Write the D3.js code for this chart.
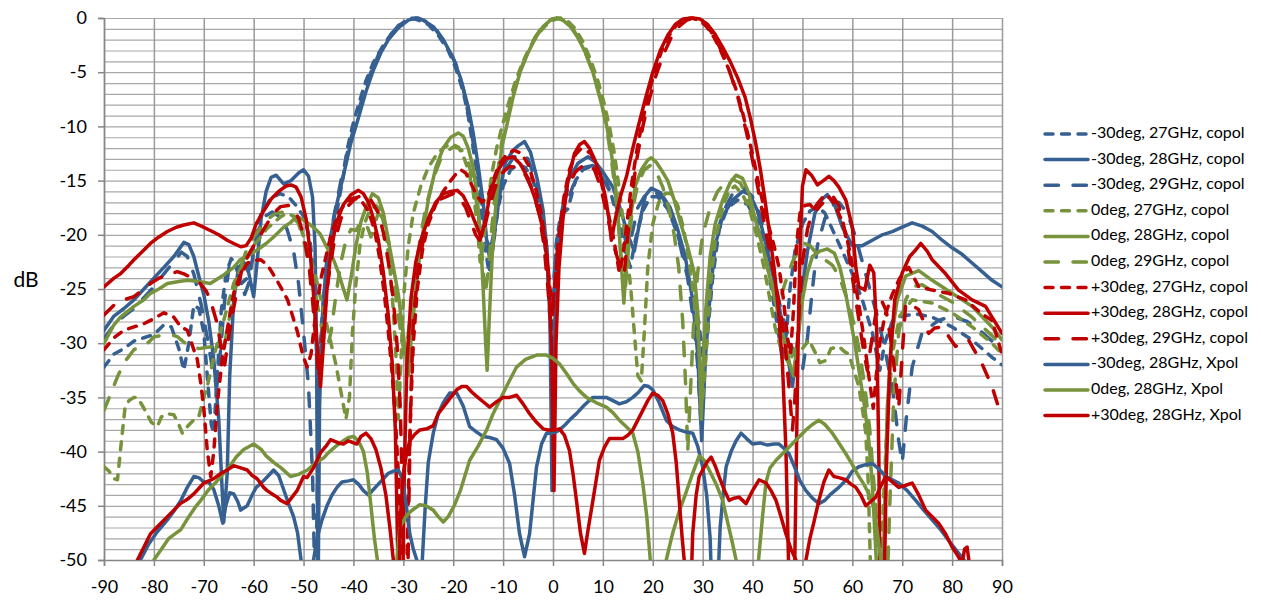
<!DOCTYPE html>
<html>
<head>
<meta charset="utf-8">
<script src="https://cdn.jsdelivr.net/npm/d3@7"></script>
<style>
  body { margin: 0; background: #fff; }
  svg { display: block; font-family: Lato, "Liberation Sans", sans-serif; }
</style>
</head>
<body>
<svg id="chart" width="1261" height="600"></svg>
<script>
// axis ticks
const xTicks = d3.range(-90, 91, 10);
const yTicks = d3.range(-50, 1, 5);
const yGrid = d3.range(-50, 1, 1);

// [angle deg, level dB] (values below -50 fall off the axis)
const blue27 = [[-90,-32.2],[-88,-31],[-86,-30.5],[-84,-29.8],[-82,-29.5],[-80,-29.2],[-78,-28.3],[-76.5,-28.5],[-75,-30.5],[-74,-32.5],[-73,-30],[-72,-26.5],[-71,-26.8],[-70,-29],[-69.3,-33],[-68.5,-37.5],[-68,-38.3],[-67.3,-33],[-66.5,-27],[-65.5,-23.5],[-64.5,-22.2],[-63.5,-22.8],[-62.5,-24.5],[-61.3,-24],[-60,-21],[-58.5,-18],[-56.5,-16.6],[-54.7,-16.2],[-53,-16.5],[-51.5,-17.3],[-50,-18.3],[-48.8,-20.2],[-48,-23.5],[-47.5,-29],[-47.1,-36],[-46.6,-30],[-46,-26],[-45,-22.5],[-44,-20],[-43,-17],[-42,-14.5],[-41.3,-12.2],[-40.2,-10],[-39,-8],[-37.5,-5.8],[-36,-4.1],[-34,-2.5],[-32,-1.2],[-30,-0.4],[-28.5,0],[-27,-0.2],[-25,-0.6],[-23,-1.6],[-21,-3],[-19.5,-4.6],[-18,-6.8],[-17,-9],[-16,-12],[-15,-15],[-14.2,-18.5],[-13.5,-21.5],[-12.8,-23.5],[-12,-21],[-11,-17.5],[-10,-15.5],[-8.5,-14],[-7,-13.5],[-5.5,-13.8],[-4,-15],[-2.8,-17],[-1.8,-20],[-1,-24],[-0.4,-30],[0,-27],[0.6,-21],[1.5,-18.2],[3,-17.6],[4.5,-15],[6,-14],[8,-13.6],[10,-14.5],[11.5,-16],[13,-18.5],[14.5,-21.5],[15.5,-23],[16.5,-20.5],[18,-17.8],[19.5,-16.5],[21,-16.5],[23,-17.6],[25,-20],[26.5,-22.5],[28,-25.5],[29.2,-28],[30.2,-32],[31,-29],[32,-24],[33.3,-19.5],[35,-17.5],[37,-16.8],[39,-17.2],[41,-18.8],[42.5,-21.5],[43.8,-25],[45,-28.5],[46,-31.5],[46.8,-29],[47.5,-25],[48.5,-21.5],[50,-19],[51.5,-17.8],[53,-17.4],[54.5,-18],[56,-19.5],[58,-21.5],[60,-23.6],[62,-26],[64,-29],[65.5,-32.5],[66.5,-30],[68,-28],[70,-27.5],[72.7,-27.3],[76,-27.6],[80,-28.5],[84,-29.7],[88,-31.3],[90,-32]];

const blue28 = [[-90,-28.8],[-88,-27.5],[-86,-26.8],[-84,-26],[-82,-25],[-80,-24],[-78,-23],[-76,-22],[-74,-20.7],[-73,-20.9],[-72,-22],[-71,-23.8],[-70,-25.5],[-69,-28],[-68,-31.5],[-67,-37],[-66,-46.5],[-65.3,-42],[-64.8,-33],[-64,-26],[-63,-23],[-62,-22.5],[-61,-23.5],[-60,-25.7],[-59.2,-22],[-58.5,-18.5],[-57.5,-16],[-56.5,-14.7],[-55.5,-14.5],[-54,-15.3],[-52.5,-15],[-51,-14.3],[-50,-14],[-49,-14.6],[-48.2,-16.5],[-47.7,-21],[-47.4,-30],[-47.1,-55],[-46.8,-36],[-46.3,-28],[-45.5,-23],[-44.5,-20],[-43.5,-17.5],[-42,-14.5],[-40.5,-11.5],[-39,-9.2],[-37.5,-6.8],[-36,-4.8],[-34.5,-3.2],[-33,-2],[-31,-0.9],[-29,-0.2],[-27.5,0],[-26,-0.2],[-24,-0.8],[-22,-2],[-20,-3.7],[-18.5,-5.6],[-17,-8.2],[-16,-10.6],[-15,-13.6],[-14,-17],[-13.3,-20.5],[-12.5,-21.3],[-11.5,-19],[-10.5,-15.5],[-9.5,-13.3],[-8,-12.2],[-7,-11.8],[-5.7,-11.4],[-4.5,-12.4],[-3.2,-14.8],[-2,-17.7],[-1.2,-21.5],[-0.6,-28],[-0.2,-43.6],[0.3,-30],[0.9,-21.5],[1.8,-17.8],[3,-15],[5,-13.4],[7,-12.8],[8.5,-13.3],[10,-14.2],[12,-15.6],[13.5,-17.6],[15,-20],[16.3,-21.5],[17.3,-19],[18.5,-16.4],[19.7,-15.7],[21.5,-16.1],[23.5,-17.5],[25,-19.5],[26.5,-22],[28,-26],[29,-31],[29.8,-39],[30.6,-31],[31.5,-25.5],[32.5,-21],[34,-18.3],[36,-16.8],[38,-16],[39.5,-16.3],[41,-17.8],[42.5,-20.5],[44,-23.5],[45.5,-27],[46.8,-30.5],[48,-34],[49,-30],[50,-25],[51,-21.5],[52.5,-18],[54,-16.7],[55,-16.3],[56.5,-17.3],[58,-19.3],[60,-21],[62,-21],[64,-20.5],[66,-20],[68,-19.7],[70,-19.3],[72,-18.9],[74,-19.2],[76,-19.7],[78,-20.5],[80,-21.2],[82,-21.8],[84,-22.6],[86,-23.4],[88,-24.2],[90,-24.8]];

const blue29 = [[-90,-29.6],[-88,-28.3],[-86,-27.5],[-84,-26.8],[-82,-25.8],[-80,-24.8],[-78,-23.6],[-76,-22.5],[-74.5,-21.6],[-73.3,-22],[-72,-23.6],[-70.5,-26.5],[-69.3,-29.5],[-68.2,-32.5],[-67.4,-34],[-66.7,-31],[-65.8,-26],[-64.8,-22.5],[-63.8,-22.6],[-62.8,-24],[-61.8,-25.5],[-61,-24.5],[-60,-21.5],[-59,-19.5],[-57.8,-18.3],[-56.3,-17.9],[-54.8,-18.3],[-53.3,-19.5],[-52,-21.5],[-51,-24.5],[-50,-29],[-49,-34],[-48.2,-42],[-47.6,-55],[-47.2,-42],[-46.7,-32],[-46,-26],[-45,-21.5],[-44,-18.5],[-42.5,-15],[-41,-12],[-39.5,-9.4],[-38,-7],[-36.5,-5],[-35,-3.4],[-33,-1.8],[-31,-0.7],[-29,-0.1],[-27,0],[-25.5,-0.3],[-23.5,-1],[-21.5,-2.4],[-19.5,-4.2],[-18,-6.5],[-17,-8.8],[-16,-11.5],[-15,-14.5],[-14,-18],[-13.2,-21],[-12.5,-22.5],[-11.7,-20],[-10.8,-16.5],[-9.5,-14],[-8,-12.9],[-6.5,-12.5],[-5,-13],[-3.5,-15],[-2.3,-17.8],[-1.3,-21],[-0.6,-26],[0.2,-24],[1,-19.5],[2.5,-17.4],[4,-15.5],[6,-13.8],[8,-13.6],[10,-14.8],[12,-16.5],[13.5,-18.5],[14.8,-21],[15.8,-20],[17,-17.5],[18.5,-16.3],[20.3,-16],[22,-16.6],[24,-18.5],[25.5,-21],[27,-24],[28.2,-28],[29,-32],[29.6,-37],[30.3,-30],[31.2,-25],[32.3,-21],[34,-18],[36,-16.2],[38,-15.6],[40,-16.5],[41.5,-18.2],[43,-21],[44.5,-24.5],[46,-27.5],[47.5,-30],[49,-31.5],[50,-32.5],[51,-29.5],[52,-25],[53,-21],[54.5,-18.5],[56,-17.3],[57.3,-17],[59,-18],[60.5,-20],[62,-22.5],[63.5,-25],[65,-27.5],[66.5,-30.5],[68,-34],[69.3,-39],[70,-41],[70.8,-37],[72,-32.2],[74,-29],[77.3,-27.9],[80,-27.5],[83,-28],[86,-29],[88,-29.8],[90,-30.4]];

const green27 = [[-90,-41.4],[-89,-41.8],[-88,-42.5],[-87.3,-42.6],[-86.5,-39],[-85.8,-36],[-85,-35.3],[-84,-35],[-83.3,-35],[-82,-36],[-80.5,-37.3],[-79.3,-37.7],[-78.5,-36.8],[-77.5,-36.5],[-76,-36.6],[-75,-37.5],[-74.3,-38.3],[-73.5,-37.8],[-72.7,-37.4],[-71.8,-37],[-71,-36.8],[-70,-35],[-69.3,-34],[-68,-31.3],[-67,-29.5],[-66,-27.9],[-64,-24.5],[-62.5,-23],[-61.2,-22],[-60,-21],[-58.6,-20.2],[-57.3,-19.4],[-56,-18.9],[-54.5,-18.3],[-53.2,-18],[-52,-18.3],[-50.5,-19.5],[-49,-21.5],[-47.5,-24],[-46,-27],[-44.5,-30],[-43.5,-32],[-42.5,-34.5],[-41.5,-37],[-40.8,-35],[-40.2,-29],[-39.5,-24.5],[-38.7,-21],[-37.8,-19],[-36.8,-17.8],[-35.5,-17.3],[-34.5,-17.8],[-33.5,-19.8],[-32.7,-23],[-32,-27],[-31.5,-31],[-31,-37],[-30.5,-32],[-30,-26],[-29,-21],[-28,-18],[-26.5,-15.5],[-25,-13.8],[-23.5,-12.7],[-22,-12],[-20.5,-11.6],[-19,-11.9],[-18,-12.7],[-17,-14],[-16,-16],[-15.2,-19],[-14.6,-22.5],[-14,-21],[-13.2,-17.5],[-12.3,-14.5],[-11.3,-12],[-10.2,-10],[-9,-8],[-7.5,-5.8],[-6,-4],[-4.5,-2.6],[-3,-1.5],[-1.5,-0.7],[0,-0.2],[1.5,0],[3,-0.3],[4.5,-1],[6,-2.2],[7.5,-3.8],[9,-5.8],[10.2,-7.8],[11.3,-10],[12.3,-12.5],[13.2,-15.5],[14,-18.5],[14.8,-21.5],[15.6,-25],[16.3,-29],[17,-33],[17.7,-33.5],[18.3,-29],[19,-23],[20,-19],[21.2,-17],[22.5,-16.2],[23.7,-16.2],[25,-17.3],[26.2,-19.5],[27.3,-22.5],[28.3,-26],[29.2,-30],[30,-35],[30.7,-31],[31.5,-25],[32.5,-20.5],[34,-17.5],[35.3,-15.9],[36.5,-15.5],[38,-16.3],[39.3,-17.5],[40.8,-20],[42.3,-23],[43.5,-26],[44.5,-28.5],[45.5,-30.2],[46.5,-31.2],[47.3,-31.9],[48.5,-30.5],[50,-30.5],[51.3,-29.7],[52.5,-30.8],[53.5,-31.8],[54.7,-31.6],[55.7,-30.5],[57.3,-30.3],[58.5,-30.8],[59.3,-31],[60.3,-32.5],[61.3,-34],[62,-36],[62.7,-38.3],[63.2,-43],[63.6,-50],[64.2,-55],[65.5,-55],[66.2,-45],[67,-37],[68,-31],[69.5,-27.5],[72,-26],[76,-26.3],[80,-27.2],[84,-28.5],[88,-30],[90,-31]];

const green28 = [[-90,-30],[-88,-28.3],[-86.7,-27.6],[-84,-26.6],[-82,-26],[-80.7,-25.4],[-79,-25],[-77.3,-24.5],[-75,-24.3],[-73.3,-24.2],[-71,-24.3],[-68.7,-24.5],[-66,-23.7],[-64,-23],[-62.7,-22.3],[-61,-21.9],[-59.3,-21.4],[-57.5,-20.8],[-56,-20.2],[-54,-19.3],[-52.7,-18.9],[-51.3,-18.3],[-49.5,-18.8],[-48,-19.3],[-46.7,-19.9],[-45.5,-21],[-44,-22.3],[-43,-23.5],[-42,-25],[-41.3,-26],[-40.5,-24],[-39.5,-21],[-38.5,-18.8],[-37.5,-17.5],[-36.2,-16.2],[-35,-16.6],[-34,-18],[-33,-20.5],[-32,-23],[-31,-25.5],[-30.2,-28.5],[-29.5,-31],[-29,-33],[-28.5,-30],[-27.5,-25],[-26.5,-21],[-25,-16.8],[-23.5,-13.8],[-22,-12],[-20.5,-11],[-19,-10.6],[-18,-10.9],[-17,-12],[-16,-13.8],[-15.2,-16.5],[-14.5,-20.5],[-14,-25],[-13.5,-30],[-13.2,-32.5],[-12.8,-28],[-12.2,-22],[-11.5,-17.5],[-10.3,-12],[-9.3,-10],[-8,-7.3],[-6.6,-5],[-5,-3.2],[-3.5,-1.8],[-2,-0.8],[-0.5,-0.2],[0.8,0],[2,-0.2],[3.5,-0.8],[5,-1.8],[6.5,-3.2],[8,-5],[9.3,-7.2],[10.5,-9.3],[11.5,-11.8],[12.3,-14.5],[13,-18],[13.6,-22],[14.2,-26.3],[14.8,-22],[15.5,-18.5],[16.5,-15.5],[17.7,-14],[19,-13.1],[19.7,-12.9],[20.7,-13.3],[21.7,-14],[23,-15],[24.3,-16.8],[25.5,-18.8],[27,-21.1],[28.3,-23.5],[29,-27],[29.4,-32],[29.7,-37],[30.1,-32],[30.6,-27],[31.5,-22],[32.5,-19],[34,-16.8],[35.5,-15.2],[36.7,-14.5],[38,-14.8],[39.3,-16.2],[40.5,-18.5],[42,-21],[43.5,-24],[45,-27],[46.5,-30],[47.5,-32],[48.2,-33],[49,-30],[50,-26],[51,-23.5],[52,-22],[53.5,-21.5],[55,-21.3],[56.4,-21.7],[57.5,-23],[58.5,-25],[59.5,-27.5],[60.5,-30],[61.5,-33],[62.5,-36],[63.3,-39],[64,-43],[64.8,-50],[65.3,-55],[66,-55],[66.5,-45],[67,-36],[68,-29],[69,-26],[70.7,-23.8],[73.3,-23.3],[76,-24.2],[80,-25.4],[84,-26.6],[88,-28.5],[90,-29.7]];

const green29 = [[-90,-36.2],[-88.5,-34.5],[-87.3,-33.1],[-86,-31.8],[-84,-30.6],[-82.5,-30.3],[-81,-29.9],[-80,-29.4],[-78.5,-29.3],[-77.3,-29.3],[-76,-29.3],[-75.3,-29.4],[-74,-29.9],[-72.7,-30.3],[-71,-30.5],[-69.5,-30.4],[-68,-30.3],[-66.5,-30.6],[-65.8,-30],[-65,-28],[-64,-25.5],[-63,-23.5],[-61.5,-21.5],[-60,-20.2],[-58.5,-19.3],[-57,-18.5],[-55.5,-18],[-54,-17.9],[-53,-17.8],[-52,-18.2],[-51,-19],[-50,-20.5],[-49,-22.5],[-48,-24.5],[-47,-27],[-46,-29.5],[-45.2,-30.3],[-44.5,-29],[-43.5,-25.5],[-42.5,-22.5],[-41.5,-20.5],[-40.5,-19.5],[-39.5,-19.6],[-38.5,-18.8],[-37.5,-18.9],[-36.5,-20.2],[-35.8,-19],[-35,-18],[-34,-18.5],[-33,-20.5],[-32,-23.5],[-31.2,-27],[-30.5,-29],[-29.8,-31],[-29.2,-30],[-28.5,-27],[-27.5,-23],[-26.5,-20],[-25.5,-17.5],[-24,-14.8],[-22.5,-13],[-21,-12.2],[-20,-11.9],[-19,-12],[-18,-12.3],[-17,-13.3],[-16,-15],[-15,-18],[-14.2,-22],[-13.6,-25.5],[-13,-23.5],[-12.2,-19],[-11.3,-15],[-10.3,-11.5],[-9.2,-9.3],[-8,-7],[-6.5,-4.8],[-5,-3],[-3.5,-1.7],[-2,-0.7],[-0.3,-0.1],[1,0],[2.5,-0.3],[4,-1],[5.5,-2.2],[7,-3.8],[8.5,-5.7],[9.8,-8],[10.8,-10.3],[11.7,-13],[12.5,-16],[13.2,-19.5],[13.8,-23],[14.4,-25.5],[15,-22],[15.8,-18],[17,-15.3],[18.3,-14],[19.5,-13.6],[20.8,-14.3],[22,-15.6],[23.2,-17.5],[24.3,-20],[25.2,-23],[26,-28],[26.6,-34],[27,-40],[27.5,-35],[28.2,-28],[29,-23.5],[30,-20],[31.5,-17.5],[33,-16],[34.5,-15.2],[36,-14.9],[37.5,-15.2],[39,-16.5],[40.5,-18.5],[42,-21],[43.3,-23.5],[44.5,-25.5],[45.5,-26],[46.5,-24.5],[48,-22.5],[49.5,-21.2],[50.4,-20.8],[51.5,-21],[53,-21.8],[54.5,-22.3],[56,-22.8],[57.5,-24],[59,-26],[60.5,-28.5],[61.5,-31],[62.5,-34],[63.5,-38],[64.5,-44],[65.3,-50],[66,-55],[66.8,-55],[67.5,-45],[68.3,-35],[69.3,-29],[70.7,-26],[72,-24.8],[74,-24.6],[76,-25.2],[80,-26.2],[84,-27.6],[88,-29.3],[90,-30.3]];

const red27 = [[-90,-30.6],[-88,-29.5],[-86,-28.8],[-84,-28.5],[-82,-28.2],[-80.7,-27.9],[-78,-27.2],[-76,-27.6],[-74.6,-28.5],[-73.3,-28.8],[-72,-30.6],[-71.3,-31.5],[-70.6,-33.7],[-70,-36],[-69.3,-39.9],[-68.6,-42.3],[-68,-40],[-67.2,-35.2],[-66.3,-31.5],[-65.4,-29],[-64,-25.4],[-62.6,-23.6],[-61.2,-22.6],[-60,-22.4],[-58.6,-22.3],[-57.2,-22.8],[-56,-23.7],[-54.6,-24.8],[-53.2,-26],[-52.2,-27.5],[-51.2,-29],[-50.2,-31],[-49.3,-32.2],[-48.5,-31],[-47.5,-27],[-46.5,-24],[-45.5,-22],[-44.5,-20],[-43,-18],[-41.5,-17],[-40,-16.6],[-38.5,-16.8],[-37,-17.8],[-35.8,-19.5],[-34.8,-22],[-33.8,-25.5],[-33,-29],[-32.2,-33],[-31.6,-37],[-31,-42],[-30.5,-48],[-30,-55],[-29.5,-55],[-29.1,-46],[-28.6,-37],[-28,-30],[-27.2,-25],[-26.2,-21.5],[-25,-19],[-23.5,-17.2],[-22,-16],[-20.5,-15],[-19.3,-14.3],[-18.5,-14],[-17.5,-14.3],[-16.5,-15.2],[-15.3,-16.4],[-14.2,-17],[-13.1,-16.5],[-12,-15],[-10.8,-13.5],[-9.3,-12.6],[-7.8,-12.2],[-6.3,-12.5],[-5,-13.5],[-3.7,-15.3],[-2.5,-17.7],[-1.5,-20.5],[-0.8,-24],[-0.2,-27],[0.5,-24],[1.2,-20],[2.2,-16.5],[3.3,-14],[4.5,-12.6],[5.5,-12.1],[6.5,-12.2],[7.6,-12.5],[8.6,-13.5],[9.6,-15],[10.5,-16.8],[11.3,-18.5],[12,-20],[12.7,-21.8],[13.3,-23.5],[14,-22],[14.8,-19],[15.7,-15.5],[16.7,-12.5],[17.8,-9.8],[19,-7.3],[20.3,-5],[21.8,-3],[23.3,-1.6],[24.8,-0.6],[26.3,-0.1],[27.8,0],[29.3,-0.2],[30.8,-0.8],[32.3,-1.8],[33.8,-3.2],[35.3,-4.8],[36.7,-6.6],[38,-8.7],[39.2,-11],[40.3,-13.2],[41.3,-15.5],[42.3,-17.5],[43.3,-19.3],[44.3,-21],[45.3,-23],[46.2,-26],[47,-29.5],[47.6,-31],[48.2,-27],[48.8,-21],[49.5,-18],[50.5,-17.3],[51.5,-17.2],[52.7,-17.8],[53.8,-17.2],[55.3,-16.5],[56.5,-17.2],[57.7,-18.5],[58.7,-19.9],[59.7,-22],[60.6,-24.5],[61.5,-27],[62.3,-29.5],[63,-32],[63.6,-34],[64.2,-36],[64.8,-33],[65.5,-30],[66.5,-27.5],[68,-25.5],[69.5,-24],[71.3,-23],[73.3,-24.8],[76,-25.1],[79.3,-25.4],[82.7,-26],[86,-27.3],[88,-27.9],[90,-31]];

const red28 = [[-90,-24.8],[-88,-24],[-86.7,-23.6],[-85,-22.8],[-84,-22.3],[-82,-21.4],[-80.7,-20.8],[-79,-20.2],[-77.3,-19.7],[-75.5,-19.3],[-74,-19.1],[-72,-18.9],[-70.5,-19.2],[-68.7,-19.6],[-67,-20],[-65.3,-20.5],[-64,-20.8],[-62.6,-21.1],[-61.5,-21],[-60.5,-20.3],[-59.5,-19],[-58,-17.8],[-56.5,-16.7],[-55,-16],[-53.5,-15.5],[-52.5,-15.4],[-51.5,-15.6],[-50.5,-16.5],[-49.5,-18.5],[-48.7,-21.5],[-48,-25.5],[-47.3,-30],[-46.6,-34],[-46,-30],[-45.3,-25],[-44.5,-21.5],[-43.5,-19],[-42,-17.2],[-40.5,-16.3],[-39,-15.9],[-38,-16.2],[-37,-17],[-36,-18.5],[-35,-20.5],[-34,-23.5],[-33,-27.5],[-32.2,-32],[-31.6,-38],[-31.1,-50],[-30.6,-55],[-30.2,-55],[-29.8,-42],[-29.3,-32],[-28.5,-26],[-27.5,-22.5],[-26.5,-20.5],[-25,-18.5],[-23.5,-17],[-22,-16.2],[-20.5,-16],[-19.2,-15.9],[-18,-16.4],[-16.8,-17.5],[-15.5,-19],[-14.4,-20.2],[-13.5,-18.5],[-12.5,-16],[-11,-14],[-9.5,-13],[-8,-12.8],[-6.5,-13.5],[-5,-14.8],[-3.5,-16.8],[-2,-19.5],[-1,-23],[-0.3,-30],[0.2,-43.6],[0.6,-30],[1.2,-23],[2,-18.5],[3,-15],[4.3,-12.5],[5.3,-11.7],[6.3,-11.4],[7.3,-12],[8.3,-13],[9.5,-14.5],[10.5,-16.5],[11.2,-18.5],[11.7,-20.5],[12.5,-18.5],[13.5,-16.5],[14.8,-14.5],[16,-12],[17.2,-9.8],[18.5,-7.5],[20,-5],[21.5,-3],[23,-1.6],[24.5,-0.6],[26,-0.1],[28,0],[29.5,-0.1],[31,-0.6],[32.5,-1.5],[34,-2.7],[35.5,-4],[37,-5.5],[38.5,-7.3],[39.6,-9.3],[40.6,-11.5],[41.5,-13.8],[42.4,-16.5],[43.3,-19.5],[44.3,-23],[45.2,-27],[46,-32],[46.7,-40],[47.2,-50],[47.6,-55],[48.3,-55],[48.8,-40],[49.2,-28],[49.6,-20],[50,-15.5],[50.7,-14],[51.8,-14.5],[53,-15.4],[54.2,-15],[55.3,-14.6],[56.3,-15],[57.3,-15.6],[58.7,-16.8],[60,-19.3],[60.7,-23],[61.3,-24.8],[62.5,-25.1],[63.5,-22.8],[64.3,-23.5],[64.9,-29],[65.3,-40],[65.6,-55],[66.3,-55],[66.8,-42],[67.5,-32],[68.5,-26],[70,-23.5],[71.5,-22],[72.5,-21.5],[73.7,-20.8],[75,-21.5],[76,-22.3],[78.7,-23.6],[81.3,-25.1],[84,-26],[86.7,-26.6],[88,-27.6],[90,-29.1]];

const red29 = [[-90,-27.4],[-88,-26.5],[-86,-26],[-84,-25.7],[-82,-25],[-80.7,-24.5],[-79,-24],[-77.3,-23.7],[-75.3,-23.4],[-74,-23.6],[-72.7,-23.9],[-70.7,-24.5],[-69.5,-25.2],[-68.7,-26],[-67.3,-28.2],[-66.3,-31],[-65.8,-32],[-65.2,-30],[-64.5,-28],[-63.5,-25.5],[-62.5,-23.5],[-61.2,-22],[-60,-21],[-59.2,-20.5],[-58,-19.5],[-57.2,-18.9],[-56,-18],[-54.6,-17.4],[-53,-17.3],[-52,-17.6],[-51,-18.5],[-50,-20],[-49,-22.5],[-48.2,-26],[-47.5,-30],[-47,-33],[-46.5,-31],[-46,-28],[-45,-24],[-44,-21],[-42.5,-18.5],[-41,-17.3],[-39.5,-16.6],[-38,-16.3],[-36.5,-16.8],[-35,-18],[-34,-19.8],[-33,-22.5],[-32,-26],[-31.2,-30.5],[-30.6,-36],[-30.2,-44],[-29.9,-50],[-29.6,-55],[-29.2,-55],[-28.9,-45],[-28.5,-35],[-28,-28],[-27,-23],[-26,-20.5],[-24.5,-18],[-23,-16.8],[-21.5,-16.5],[-20,-16.2],[-18.7,-16.6],[-17.5,-17.5],[-16.3,-19],[-15.5,-20],[-14.7,-20.5],[-13.8,-19.5],[-12.8,-17.5],[-11.5,-15.5],[-10,-14.2],[-8.7,-13.7],[-7,-13.8],[-5.5,-14.5],[-4,-16],[-2.8,-18],[-1.8,-21],[-1,-25],[-0.4,-28.5],[0.2,-26],[0.9,-21.5],[1.8,-18],[3,-15.5],[4.5,-14.2],[6,-13.6],[7.3,-13.5],[8.3,-14],[9.5,-15.5],[10.5,-17.5],[11.5,-19.5],[12.5,-21.5],[13.5,-23],[14.3,-23.5],[15,-20],[15.8,-16.5],[16.8,-13],[18,-10],[19.3,-7.5],[20.7,-5.2],[22.2,-3.3],[23.7,-1.8],[25.2,-0.8],[26.8,-0.2],[28.2,0],[29.7,-0.2],[31.2,-0.9],[32.7,-2],[34.2,-3.5],[35.6,-5.2],[37,-7.2],[38.3,-9.6],[39.5,-12],[40.6,-14.5],[41.6,-17],[42.6,-19.5],[43.6,-22],[44.6,-24.5],[45.6,-27],[46.5,-30],[47.3,-34],[48,-38],[48.5,-35],[49.2,-28],[50,-22.5],[51,-19.5],[52,-17.8],[53.2,-17],[54.7,-16.2],[56,-16.4],[57.2,-17.2],[58.2,-19],[59.2,-21.5],[60.2,-24.5],[61.2,-27.5],[62.2,-30.5],[63,-32.5],[63.8,-30],[64.8,-27],[65.8,-26],[66.8,-27],[67.8,-30],[68.6,-33],[69.3,-36],[70,-31],[70.7,-26.3],[72,-26.5],[73.3,-26.9],[75.3,-29.1],[76.5,-28.6],[78,-28.5],[80.7,-30.3],[83.3,-29.7],[86,-31.9],[88,-34],[89.3,-35.9],[90,-36.2]];

const blueXpol = [[-83.5,-55],[-82.7,-50],[-81,-48.5],[-79.5,-47.5],[-77.3,-46.3],[-76,-45.5],[-74.6,-44.5],[-73.3,-43.3],[-72,-42.3],[-71,-42.4],[-70,-42.8],[-69,-42.8],[-68,-43.5],[-67,-45],[-66.2,-46.6],[-65.6,-45],[-64.8,-43.8],[-64,-43.9],[-63.2,-44.6],[-62.6,-45.4],[-61.3,-45],[-60.3,-44],[-59.5,-43.3],[-58.7,-43],[-57.2,-42.3],[-56,-41.7],[-55,-42.2],[-54,-43.5],[-53,-44.8],[-52,-46],[-51.2,-47.5],[-50.5,-50],[-50,-55],[-48.5,-55],[-48,-50],[-47.3,-48],[-46.3,-46.3],[-45.3,-45],[-44.3,-44],[-43.3,-43.3],[-42.3,-42.8],[-41,-42.7],[-40,-42.6],[-39,-43],[-38,-43.6],[-37,-44],[-36,-43.5],[-35,-43],[-34,-42.5],[-33,-42],[-32,-41.8],[-31,-41.7],[-30.2,-42.5],[-29.4,-45],[-28.7,-47.6],[-28,-49],[-27.3,-50],[-26.7,-55],[-26.2,-50],[-25.6,-45],[-25,-41],[-24,-38.3],[-23,-36.5],[-22,-35.5],[-20.7,-34.6],[-19.3,-34.6],[-18,-35.8],[-16.7,-37.7],[-15.3,-38.2],[-14,-38.6],[-12.7,-38.7],[-11.3,-38.9],[-10,-39.7],[-8.7,-41.1],[-7.7,-44],[-6.7,-47.6],[-5.7,-49.7],[-4.7,-47.6],[-4,-44.5],[-3.3,-41.4],[-2.3,-39.3],[-1.3,-38.3],[-0.3,-38.3],[0.5,-38.2],[1.3,-38],[2.5,-37.5],[3.5,-37],[4.7,-36.5],[6.3,-35.7],[8,-35],[9.3,-35],[10.7,-35],[12,-35.3],[13.3,-35.6],[14.7,-35.4],[16,-35],[17.2,-34.5],[18.3,-33.9],[19.2,-34],[20,-34.3],[21.3,-35.5],[22.7,-37.1],[24,-37.7],[25.3,-38],[26.7,-38.2],[28,-38.3],[29,-39.5],[30,-41.4],[30.8,-44],[31.5,-48],[32,-55],[32.8,-55],[33.5,-47],[34.2,-43.5],[34.7,-41.4],[35.7,-40],[36.7,-39],[37.7,-38.3],[38.8,-38.8],[40,-39.3],[41.5,-39.2],[43,-39.4],[44.3,-39.3],[45.3,-39.3],[46.3,-39.7],[47.3,-40.2],[48.5,-41.5],[49.5,-42.7],[50.7,-43.6],[52,-44.3],[53.3,-44.8],[54.5,-44.5],[55.5,-44],[57.3,-43.3],[59,-42.5],[60,-41.8],[61.3,-41.4],[62.7,-41.2],[64,-41.1],[65.3,-41.6],[66.7,-42.3],[68,-42.6],[69.3,-42.9],[71,-43.6],[72.7,-44.5],[74.3,-45.4],[76,-46.3],[77.7,-47.2],[79.3,-48.2],[81,-49.2],[82.7,-50.2],[83.5,-55]];

const greenXpol = [[-81,-55],[-80,-50],[-78.5,-49],[-77,-48],[-75.5,-47.5],[-74.6,-47.2],[-73,-46],[-71.5,-45],[-70.6,-44.5],[-69,-43.5],[-67.5,-42.8],[-66.6,-42.3],[-65,-41.5],[-63.5,-40.5],[-62,-39.8],[-60,-39.3],[-58.5,-39.8],[-57.5,-40.4],[-56,-41],[-54.5,-41.5],[-52.6,-42.3],[-51,-42.1],[-49.2,-41.7],[-47.5,-41],[-46,-40.6],[-45,-40.1],[-43.5,-39.5],[-42,-39],[-41,-38.7],[-40,-38.6],[-39,-39],[-38,-40],[-37.2,-42],[-36.5,-45],[-35.8,-48],[-35.2,-50],[-34.8,-55],[-32,-55],[-31.3,-50],[-30.7,-47],[-29.5,-46],[-28.5,-45.5],[-26.7,-44.9],[-25.5,-45],[-24,-45.4],[-23,-46],[-22,-46.5],[-21,-46],[-19.7,-44.9],[-18.5,-43.5],[-17.5,-42],[-16.7,-40.8],[-15,-39.5],[-13.3,-38],[-12,-36.5],[-10.7,-35.3],[-9,-33.7],[-7.3,-32.2],[-5.5,-31.5],[-3.3,-31.1],[-1.3,-31.1],[0,-31.4],[1.3,-31.9],[2.7,-32.8],[4,-33.7],[5.3,-34.4],[6.7,-35],[8.7,-35.5],[10.7,-35.9],[12,-36.4],[13.3,-37.1],[14.7,-37.7],[16,-38.3],[17,-40],[18,-42.9],[18.8,-46],[19.5,-50],[20,-55],[22.2,-55],[22.7,-50],[24,-47.5],[25.3,-45.5],[26.5,-44],[28,-42],[29.3,-40.4],[30.3,-40.8],[31.3,-41.7],[32.7,-43],[34,-44.5],[35,-46.5],[36,-48.5],[36.7,-50],[37.2,-55],[40.5,-55],[41.2,-50],[42,-46],[42.7,-42.8],[43.5,-41.5],[44.7,-40.8],[46,-40.2],[47.3,-39.6],[49,-38.8],[50.7,-38],[52,-37.5],[53.3,-37.1],[54.5,-37.5],[56,-38.3],[57.3,-39.2],[58.7,-40.2],[60,-41.2],[61.3,-42.3],[62.3,-43],[63.3,-43.9],[64.2,-45],[64.7,-46.3],[65.3,-48.5],[65.7,-50],[66.2,-55]];

const redXpol = [[-85,-55],[-83.3,-50],[-82,-48.8],[-80.7,-47.6],[-79,-46.8],[-77.3,-46],[-76,-45.4],[-74.7,-44.8],[-73.3,-44.4],[-72,-43.9],[-71,-43.4],[-70,-42.9],[-68,-42.5],[-66.5,-42],[-65.3,-41.7],[-64,-41.3],[-62.6,-41.5],[-61.3,-41.7],[-60.3,-42.2],[-59.3,-42.5],[-58,-43.3],[-57.3,-43.6],[-56,-44],[-55.3,-44.2],[-54.6,-44.5],[-53.3,-44.8],[-52.3,-44.2],[-51.3,-43.6],[-50,-42.3],[-49.3,-42.4],[-48,-41.5],[-46.6,-40.1],[-45.5,-39.5],[-44.6,-38.9],[-43,-39.2],[-42,-39.3],[-41,-39],[-39.3,-39.3],[-38.5,-38.6],[-37.5,-38.3],[-36.5,-38.8],[-35.5,-39.8],[-34.5,-41.5],[-33.5,-44],[-32.7,-47],[-32,-50],[-31.5,-55],[-31,-55],[-30.6,-46],[-30,-42],[-29.3,-40],[-28.7,-39],[-27.7,-38.4],[-26.7,-38],[-25.3,-37.9],[-24,-37.6],[-23,-36.5],[-22,-35.9],[-20.5,-35],[-19.3,-34.3],[-18.3,-34],[-17.3,-34],[-16.3,-34.5],[-15.3,-34.9],[-14,-35.4],[-12.7,-35.9],[-11.3,-35.4],[-10,-35],[-8.7,-35],[-7.3,-34.8],[-6,-35.6],[-4.7,-36.5],[-3.3,-37.3],[-2,-37.9],[-1,-38],[0,-38],[0.4,-38],[1.3,-37.9],[2.3,-38.5],[3.3,-39.9],[4,-42],[4.7,-44.5],[5.5,-47.5],[6.3,-49.4],[7.1,-47],[8,-44.5],[8.7,-42.5],[9.3,-40.8],[10.3,-39.6],[11.3,-38.8],[12.7,-38.8],[14,-38.8],[15,-38.5],[16,-38],[17,-37.1],[18,-36.2],[19,-35.3],[20,-34.6],[21,-34.8],[22,-35.3],[23,-36.5],[24,-38.3],[24.7,-41],[25.3,-44.5],[25.9,-48],[26.3,-50],[26.8,-55],[27.5,-55],[28,-47.6],[28.7,-44],[29.3,-42.3],[30,-41.7],[30.8,-41],[31.7,-40.5],[32.5,-41.3],[33.3,-42.3],[34.3,-43.5],[35.3,-44.5],[36.3,-44.3],[37.3,-44.2],[38.7,-44.8],[40,-43.6],[41.3,-42.6],[42.7,-42.9],[43.7,-43.6],[44.7,-44.5],[45.7,-46],[46.7,-47.6],[47.7,-49],[48.7,-50],[49.7,-55],[50.2,-55],[50.7,-50],[51.5,-48],[52.3,-46.5],[53.3,-44.5],[54.3,-42.8],[55.3,-41.7],[56.3,-42.3],[57.3,-42.4],[58.7,-42.6],[59.7,-43],[60.7,-43.3],[61.7,-44],[62.7,-45],[63.7,-44.6],[64.7,-44.2],[65.7,-43.2],[66.7,-42.3],[68,-42.8],[69.3,-43.3],[70.7,-43.1],[72,-42.9],[73.3,-44],[74.7,-45.4],[76,-46],[77.3,-46.6],[78.7,-47.6],[80,-48.8],[81,-49.5],[82,-50.3],[82.5,-49],[83,-48.8],[83.5,-50.5],[84,-55]];

const seriesNames = [
    "-30deg, 27GHz, copol", "-30deg, 28GHz, copol", "-30deg, 29GHz, copol",
    "0deg, 27GHz, copol", "0deg, 28GHz, copol", "0deg, 29GHz, copol",
    "+30deg, 27GHz, copol", "+30deg, 28GHz, copol", "+30deg, 29GHz, copol",
    "-30deg, 28GHz, Xpol", "0deg, 28GHz, Xpol", "+30deg, 28GHz, Xpol"
];
const seriesData = [blue27, blue28, blue29, green27, green28, green29,
    red27, red28, red29, blueXpol, greenXpol, redXpol];

const BLUE = "#376092", GREEN = "#77933C", RED = "#C00000";
const DASH = "8,8.5", LONG_DASH = "13.5,14.5";
const styles = [
    [BLUE, DASH], [BLUE, null], [BLUE, LONG_DASH],
    [GREEN, DASH], [GREEN, null], [GREEN, LONG_DASH],
    [RED, DASH], [RED, null], [RED, LONG_DASH],
    [BLUE, null], [GREEN, null], [RED, null]
];

const series = seriesNames.map((name, i) => ({
    name,
    data: seriesData[i],
    colour: styles[i][0],
    dash: styles[i][1]
}));

const margin = { top: 18, left: 104 };
const plotW = 898, plotH = 542;

const svg = d3.select("#chart");

const xScale = d3.scaleLinear().domain([-90, 90]).range([margin.left, margin.left + plotW]);
const yScale = d3.scaleLinear().domain([-50, 0]).range([margin.top + plotH, margin.top]);

// gridlines
svg.append("g")
    .attr("transform", `translate(${margin.left}, 0)`)
    .call(d3.axisLeft(yScale).tickValues(yGrid).tickSize(-plotW).tickFormat(""))
    .call((g) => g.select(".domain").remove())
    .selectAll("line")
    .attr("stroke", "#a8a8a8")
    .attr("stroke-width", 1.2);

svg.append("g")
    .attr("transform", `translate(0, ${margin.top + plotH})`)
    .call(d3.axisBottom(xScale).tickValues(xTicks).tickSize(-plotH).tickFormat(""))
    .call((g) => g.select(".domain").remove())
    .selectAll("line")
    .attr("stroke", "#9a9a9a")
    .attr("stroke-width", 1.5);

// axes
const yAxis = svg.append("g")
    .attr("transform", `translate(${margin.left}, 0)`)
    .call(d3.axisLeft(yScale).tickValues(yTicks).tickSize(6).tickPadding(11).tickFormat((d) => String(d)));

const xAxis = svg.append("g")
    .attr("transform", `translate(0, ${margin.top + plotH})`)
    .call(d3.axisBottom(xScale).tickValues(xTicks).tickSize(6).tickPadding(14).tickFormat((d) => String(d)));

[yAxis, xAxis].forEach((g) => {
    g.select(".domain").attr("stroke", "#868686").attr("stroke-width", 1.5);
    g.selectAll(".tick line").attr("stroke", "#868686").attr("stroke-width", 1.5);
    g.selectAll("text")
        .attr("fill", "#000")
        .attr("font-size", 18)
        .attr("font-family", "Lato, 'Liberation Sans', sans-serif");
});

svg.append("text")
    .attr("x", 26)
    .attr("y", 282)
    .attr("text-anchor", "middle")
    .attr("dominant-baseline", "middle")
    .attr("font-size", 21)
    .attr("fill", "#000")
    .text("dB");

// series lines
svg.append("clipPath")
    .attr("id", "plot-clip")
    .append("rect")
    .attr("x", margin.left)
    .attr("y", margin.top - 4)
    .attr("width", plotW)
    .attr("height", plotH + 4);

const line = d3.line()
    .x((d) => xScale(d[0]))
    .y((d) => yScale(d[1]));

svg.append("g")
    .attr("clip-path", "url(#plot-clip)")
    .selectAll("path")
    .data(series)
    .join("path")
    .attr("fill", "none")
    .attr("stroke", (d) => d.colour)
    .attr("stroke-width", 3.5)
    .attr("stroke-linejoin", "round")
    .attr("stroke-linecap", "round")
    .attr("stroke-dasharray", (d) => d.dash)
    .attr("d", (d) => line(d.data));

// legend
const legend = svg.append("g").attr("transform", "translate(1043, 134)");

const legendItems = legend.selectAll("g")
    .data(series)
    .join("g")
    .attr("transform", (_, i) => `translate(0, ${i * 25.6})`);

legendItems.append("line")
    .attr("x1", 2)
    .attr("x2", 45)
    .attr("stroke", (d) => d.colour)
    .attr("stroke-width", 3.5)
    .attr("stroke-linecap", "round")
    .attr("stroke-dasharray", (d) => d.dash);

legendItems.append("text")
    .attr("x", 48)
    .attr("dominant-baseline", "middle")
    .attr("font-size", 16)
    .attr("fill", "#000")
    .text((d) => d.name);
</script>
</body>
</html>
